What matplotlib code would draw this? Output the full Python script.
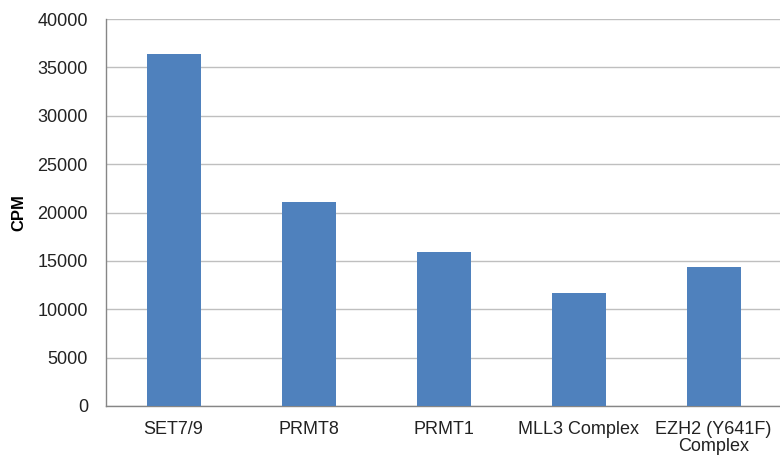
import matplotlib
matplotlib.use("Agg")
import matplotlib.pyplot as plt

categories = ["SET7/9", "PRMT8", "PRMT1", "MLL3 Complex", "EZH2 (Y641F)\nComplex"]
cpm = [36350, 21120, 15950, 11730, 14390]
yticks = [0, 5000, 10000, 15000, 20000, 25000, 30000, 35000, 40000]

plt.rcParams['font.family'] = ['Liberation Sans', 'DejaVu Sans']

fig = plt.figure(figsize=(7.8, 4.55), dpi=100)
ax = fig.add_axes([106/780, 1 - 406/455, (781 - 106)/780, (406 - 19)/455])

x = list(range(len(categories)))
ax.bar(x, cpm, width=0.4, color="#4F81BD", zorder=3)
ax.set_xlim(-0.5, len(categories) - 0.5)
ax.set_ylim(0, 40000)
ax.set_yticks(yticks)
ax.set_yticklabels([str(v) for v in yticks], fontsize=13, color="#222222")
ax.set_xticks(x)
ax.set_xticklabels(categories, fontsize=13, color="#222222", linespacing=1.0)
ax.tick_params(axis='both', length=0)
ax.tick_params(axis='y', pad=13)
ax.tick_params(axis='x', pad=11)
ax.yaxis.grid(True, color="#BFBFBF", linewidth=1, zorder=0)
for s in ["top", "right"]:
    ax.spines[s].set_visible(False)
for s in ["left", "bottom"]:
    ax.spines[s].set_color("#868686")
    ax.spines[s].set_linewidth(1)
ax.set_ylabel("CPM", fontsize=12, fontweight="bold")
ax.yaxis.set_label_coords(-(106 - 26) / 675, 0.5)

fig.savefig("out.png", dpi=100)
